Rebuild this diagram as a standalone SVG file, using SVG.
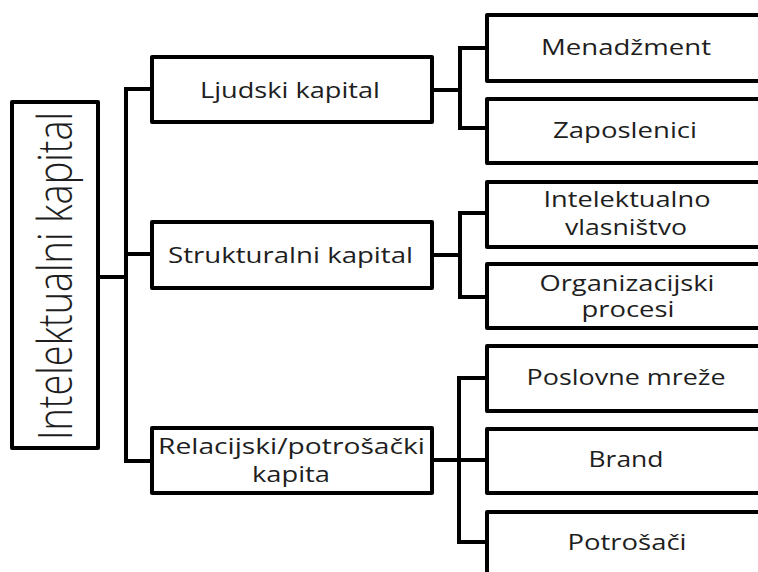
<svg xmlns="http://www.w3.org/2000/svg" width="758" height="572" viewBox="0 0 758 572">
<style>
.box{fill:#fff;stroke:#000;stroke-width:4;stroke-linejoin:round}
.conn{fill:none;stroke:#000;stroke-width:4;stroke-linejoin:miter}
.t{font-family:"Open Sans","Liberation Sans",sans-serif;font-size:21px;fill:#1e1e1e;text-anchor:middle}
.root{font-family:"Open Sans","Liberation Sans",sans-serif;font-size:48px;font-weight:300;fill:#1e1e1e;text-anchor:middle}
</style>
<rect width="758" height="572" fill="#fff"/>
<g id="connectors">
<path class="conn" d="M98,277 H126 M152,89 H126 V461 H152 M126,254 H152"/>
<path class="conn" d="M432,90 H460 M487,48 H460 V128 H487"/>
<path class="conn" d="M432,255 H460 M487,213 H460 V297 H487"/>
<path class="conn" d="M432,460 H487 M487,378 H459 V542 H487"/>
</g>
<g id="root">
<rect class="box" x="12" y="102" width="86" height="346"/>
<text class="root" transform="translate(72,276) rotate(-90)" textLength="328" lengthAdjust="spacingAndGlyphs">Intelektualni kapital</text>
</g>
<g id="ljudski">
<rect class="box" x="152" y="57" width="280" height="65"/>
<text class="t" x="290" y="98" textLength="180" lengthAdjust="spacingAndGlyphs">Ljudski kapital</text>
</g>
<g id="strukturalni">
<rect class="box" x="152" y="222" width="280" height="66"/>
<text class="t" x="290.5" y="263" textLength="245" lengthAdjust="spacingAndGlyphs">Strukturalni kapital</text>
</g>
<g id="relacijski">
<rect class="box" x="152" y="428" width="280" height="65"/>
<text class="t" x="291.5" y="454" textLength="267" lengthAdjust="spacingAndGlyphs">Relacijski/potrošački</text>
<text class="t" x="291" y="482" textLength="78" lengthAdjust="spacingAndGlyphs">kapita</text>
</g>
<g id="menadzment">
<rect class="box" x="487" y="15" width="285" height="66"/>
<text class="t" x="626" y="55" textLength="170" lengthAdjust="spacingAndGlyphs">Menadžment</text>
</g>
<g id="zaposlenici">
<rect class="box" x="487" y="99" width="285" height="64"/>
<text class="t" x="625" y="138" textLength="144" lengthAdjust="spacingAndGlyphs">Zaposlenici</text>
</g>
<g id="intelektualno">
<rect class="box" x="487" y="182" width="285" height="65"/>
<text class="t" x="627" y="207" textLength="167" lengthAdjust="spacingAndGlyphs">Intelektualno</text>
<text class="t" x="626" y="235" textLength="122" lengthAdjust="spacingAndGlyphs">vlasništvo</text>
</g>
<g id="organizacijski">
<rect class="box" x="487" y="264" width="285" height="64"/>
<text class="t" x="627" y="291" textLength="175" lengthAdjust="spacingAndGlyphs">Organizacijski</text>
<text class="t" x="628" y="317" textLength="93" lengthAdjust="spacingAndGlyphs">procesi</text>
</g>
<g id="poslovne">
<rect class="box" x="487" y="346" width="285" height="65"/>
<text class="t" x="626" y="385" textLength="199" lengthAdjust="spacingAndGlyphs">Poslovne mreže</text>
</g>
<g id="brand">
<rect class="box" x="487" y="429" width="285" height="64"/>
<text class="t" x="626" y="467" textLength="75" lengthAdjust="spacingAndGlyphs">Brand</text>
</g>
<g id="potrosaci">
<rect class="box" x="487" y="512" width="285" height="80"/>
<text class="t" x="627" y="550" textLength="119" lengthAdjust="spacingAndGlyphs">Potrošači</text>
</g>
</svg>
